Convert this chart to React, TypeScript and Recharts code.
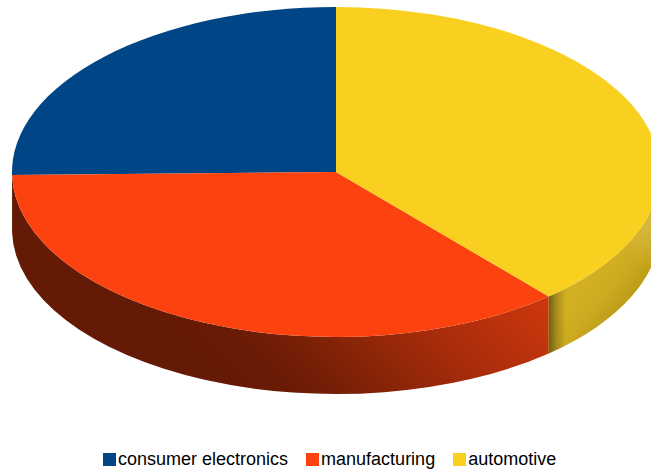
import React from "react";
import { PieChart, Pie, Legend } from "recharts";

const categories = ["consumer electronics", "manufacturing", "automotive"];
const shares = [25.3, 36.1, 38.6];
const faceColors = ["#004586", "#fc430f", "#f9d020"];
const wallFills = ["none", "url(#wallRed)", "url(#wallYellow)"];
const wallOverlays = [[], [], ["url(#wallYellowShade)", "url(#wallYellowGlow)"]];

const CX = 336;
const CY = 172;
const RADIUS = 324;
const SQUASH = 165 / 324;
const DEPTH = 57;

const faceRows = categories.map((name, i) => ({ name, value: shares[i], fill: faceColors[i] }));
const wallRows = categories.map((name, i) => ({
  name,
  value: shares[i],
  fill: wallFills[i],
  overlays: wallOverlays[i],
}));

// Point on the tilted rim for a math angle in degrees, optionally pushed down by the wall depth.
function rim(cx: number, cy: number, r: number, deg: number, drop = 0) {
  const a = (deg * Math.PI) / 180;
  return {
    x: cx + r * Math.cos(a),
    y: cy - r * SQUASH * Math.sin(a) + drop,
  };
}

function FaceSlice(props: any) {
  const { cx, cy, outerRadius: r, startAngle, endAngle, fill } = props;
  const a0 = Math.min(startAngle, endAngle);
  const a1 = Math.max(startAngle, endAngle);
  const p0 = rim(cx, cy, r, a0);
  const p1 = rim(cx, cy, r, a1);
  const large = a1 - a0 > 180 ? 1 : 0;
  const d = `M${cx},${cy}L${p0.x},${p0.y}A${r},${r * SQUASH} 0 ${large} 0 ${p1.x},${p1.y}Z`;
  return <path d={d} fill={fill} stroke="none" />;
}

// Side wall of a slice: only the part of the rim on the front half can be seen.
function WallSlice(props: any) {
  const { cx, cy, outerRadius: r, startAngle, endAngle, fill, overlays } = props;
  const a0 = Math.max(Math.min(startAngle, endAngle), 180);
  const a1 = Math.min(Math.max(startAngle, endAngle), 360);
  if (a1 - a0 < 2) return <g />;
  const top0 = rim(cx, cy, r, a0);
  const top1 = rim(cx, cy, r, a1);
  const low0 = rim(cx, cy, r, a0, DEPTH);
  const low1 = rim(cx, cy, r, a1, DEPTH);
  const ry = r * SQUASH;
  const d =
    `M${top0.x},${top0.y}A${r},${ry} 0 0 0 ${top1.x},${top1.y}` +
    `L${low1.x},${low1.y}A${r},${ry} 0 0 1 ${low0.x},${low0.y}Z`;
  return (
    <g>
      <path d={d} fill={fill} stroke="none" />
      {(overlays ?? []).map((paint: string) => (
        <path key={paint} d={d} fill={paint} stroke="none" />
      ))}
    </g>
  );
}

function LegendRow({ payload }: any) {
  const entries = (payload ?? []).filter((entry: any) => faceColors.includes(entry.color));
  return (
    <div
      style={{
        display: "flex",
        paddingLeft: 103,
        fontFamily: "'Liberation Sans', sans-serif",
        fontSize: 18,
        lineHeight: "20px",
        color: "#000",
        whiteSpace: "nowrap",
      }}
    >
      {entries.map((entry: any) => (
        <div key={entry.value} style={{ display: "flex", alignItems: "center", marginRight: 18 }}>
          <span
            style={{
              display: "inline-block",
              width: 13,
              height: 13,
              marginRight: 2,
              background: entry.color,
            }}
          />
          <span>{entry.value}</span>
        </div>
      ))}
    </div>
  );
}

export default function App() {
  return (
    <div style={{ position: "absolute", left: 0, top: 0, width: 651, height: 474, overflow: "hidden", background: "#fff" }}>
      <style>{`html,body{margin:0;padding:0}`}</style>
      <PieChart width={651} height={474} margin={{ top: 0, right: 0, bottom: 0, left: 0 }}>
        <defs>
          <linearGradient id="wallRed" gradientUnits="userSpaceOnUse" x1={190} y1={347} x2={388.5} y2={148.5}>
            <stop offset="0" stopColor="#651a05" />
            <stop offset="0.15" stopColor="#6a1b05" />
            <stop offset="0.3" stopColor="#7a2007" />
            <stop offset="0.45" stopColor="#8e2608" />
            <stop offset="0.65" stopColor="#a82c0a" />
            <stop offset="1" stopColor="#cb370d" />
          </linearGradient>
          <linearGradient id="wallYellow" gradientUnits="userSpaceOnUse" x1={467} y1={389} x2={516} y2={430}>
            <stop offset="0" stopColor="#d2b022" />
            <stop offset="0.4" stopColor="#d2b022" />
            <stop offset="0.7" stopColor="#cdab20" />
            <stop offset="1" stopColor="#bf9e1a" />
          </linearGradient>
          <linearGradient id="wallYellowShade" gradientUnits="userSpaceOnUse" x1={549} y1={0} x2={566} y2={0}>
            <stop offset="0" stopColor="#000" stopOpacity={0.45} />
            <stop offset="0.45" stopColor="#000" stopOpacity={0.2} />
            <stop offset="1" stopColor="#000" stopOpacity={0} />
          </linearGradient>
          <radialGradient id="wallYellowGlow" gradientUnits="userSpaceOnUse" cx={655} cy={222} r={45}>
            <stop offset="0" stopColor="#fff" stopOpacity={0.14} />
            <stop offset="1" stopColor="#fff" stopOpacity={0} />
          </radialGradient>
        </defs>
        <Pie
          data={wallRows}
          dataKey="value"
          nameKey="name"
          cx={CX}
          cy={CY}
          outerRadius={RADIUS}
          startAngle={90}
          endAngle={450}
          paddingAngle={0}
          stroke="none"
          legendType="none"
          isAnimationActive={false}
          shape={WallSlice}
        />
        <Pie
          data={faceRows}
          dataKey="value"
          nameKey="name"
          cx={CX}
          cy={CY}
          outerRadius={RADIUS}
          startAngle={90}
          endAngle={450}
          paddingAngle={0}
          stroke="none"
          isAnimationActive={false}
          shape={FaceSlice}
        />
        <Legend
          content={LegendRow}
          itemSorter={null}
          wrapperStyle={{ left: 0, top: 449, width: 651, bottom: "auto" }}
        />
      </PieChart>
    </div>
  );
}
